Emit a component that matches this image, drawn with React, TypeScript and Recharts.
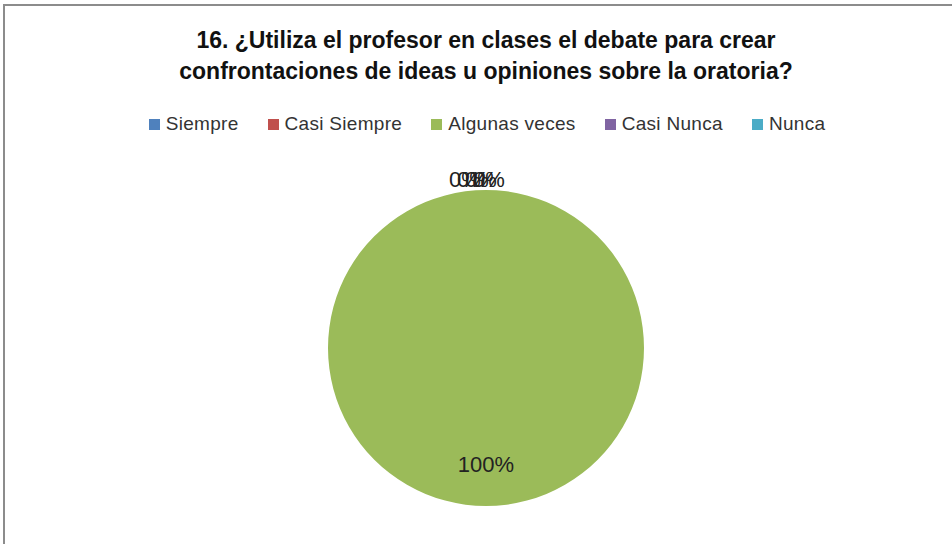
import { PieChart, Pie, Cell } from 'recharts';

const categories = ['Siempre', 'Casi Siempre', 'Algunas veces', 'Casi Nunca', 'Nunca'];
const values = [0, 0, 100, 0, 0];
const colors = ['#4F81BD', '#C0504D', '#9BBB59', '#8064A2', '#4BACC6'];

const data = categories.map((name, i) => ({ name, value: values[i] }));
const total = values.reduce((a, b) => a + b, 0);

const RAD = Math.PI / 180;
const FONT = "'Liberation Sans', Arial, sans-serif";

// zero slices all collapse at the top, so their labels pile up there like in Excel
const zeroIdx = values.map((v, i) => (v === 0 ? i : -1)).filter((i) => i >= 0);

const renderLabel = (props: any) => {
    const { cx, cy, midAngle, outerRadius, index } = props;
    const v = values[index];
    const pct = Math.round((v / total) * 100) + '%';
    let x, y;
    if (v === 0) {
        const r = outerRadius + 11;
        const k = zeroIdx.indexOf(index);
        x = cx + r * Math.cos(-midAngle * RAD) - 21 + k * 8;
        y = cy + r * Math.sin(-midAngle * RAD);
    } else {
        const r = outerRadius * 0.74;
        x = cx + r * Math.cos(-midAngle * RAD);
        y = cy + r * Math.sin(-midAngle * RAD);
    }
    return (
        <text x={x} y={y} textAnchor="middle" dominantBaseline="central" fill="#222" fontSize={22} fontFamily={FONT}>
            {pct}
        </text>
    );
};

export default function App() {
    return (
        <div style={{ position: 'fixed', left: 0, top: 0, width: 952, height: 544, overflow: 'hidden', background: '#fff' }}>
            <div style={{ position: 'absolute', left: 3, top: 4, width: 1000, height: 600, border: '2px solid #8c8c8c' }}></div>
            <div style={{ position: 'absolute', left: 0, top: 25, width: 972, textAlign: 'center', fontFamily: FONT, fontWeight: 'bold', fontSize: 23, lineHeight: '31px', color: '#111' }}>
                16. ¿Utiliza el profesor en clases el debate para crear<br />
                confrontaciones de ideas u opiniones sobre la oratoria?
            </div>
            {/* legend */}
            <div style={{ position: 'absolute', left: 0, top: 113, width: 974, display: 'flex', justifyContent: 'center', fontFamily: FONT, fontSize: 19, letterSpacing: 0.3, color: '#333' }}>
                {categories.map((c, i) => (
                    <div key={c} style={{ display: 'flex', alignItems: 'center', marginRight: i < categories.length - 1 ? 29 : 0 }}>
                        <div style={{ width: 11, height: 11, backgroundColor: colors[i], marginRight: 6 }}></div>
                        <span>{c}</span>
                    </div>
                ))}
            </div>
            <div style={{ position: 'absolute', left: 0, top: 0 }}>
                <PieChart width={952} height={544} margin={{ top: 0, right: 0, bottom: 0, left: 0 }}>
                    <Pie
                        data={data}
                        dataKey="value"
                        nameKey="name"
                        cx={486}
                        cy={348}
                        outerRadius={158}
                        startAngle={90}
                        endAngle={-270}
                        stroke="none"
                        label={renderLabel}
                        labelLine={false}
                        isAnimationActive={false}
                    >
                        {data.map((d, i) => (
                            <Cell key={d.name} fill={colors[i]} />
                        ))}
                    </Pie>
                </PieChart>
            </div>
        </div>
    );
}
